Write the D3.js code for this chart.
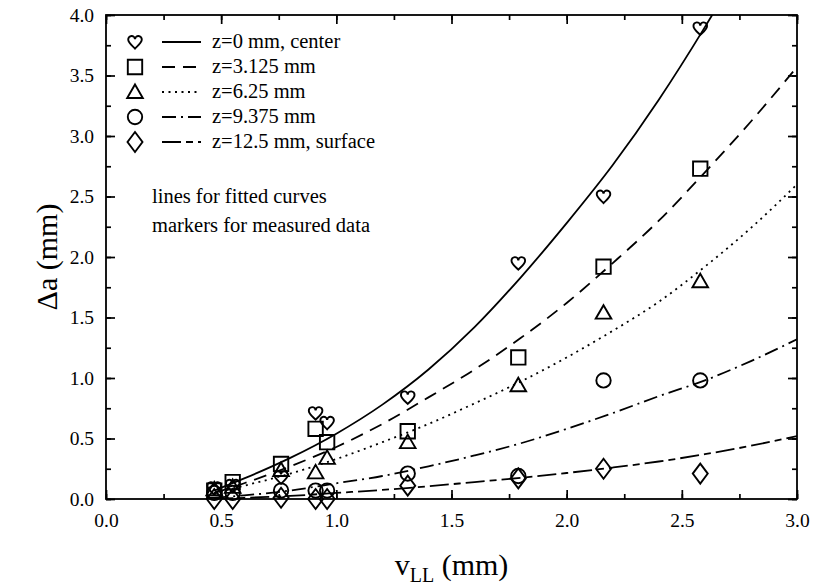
<!DOCTYPE html>
<html>
<head>
<meta charset="utf-8">
<script src="https://cdn.jsdelivr.net/npm/d3@7"></script>
<style>
  body { margin: 0; background: #fff; }
  svg text { font-family: "Liberation Serif", "Times New Roman", serif; fill: #000; }
  .tick text { font-size: 19.5px; }
  .domain { display: none; }
  .ticks .tick line { stroke: #000; stroke-width: 1.7; }
</style>
</head>
<body>
<div id="chart"></div>
<script>
// measured positions (v_LL, mm)
const vLL = [0.47, 0.55, 0.76, 0.91, 0.96, 1.31, 1.79, 2.16, 2.58];

// measured crack extension (mm), one array per depth
const da_z0     = [0.09, 0.11, 0.18, 0.71, 0.63, 0.84, 1.95, 2.50, 3.89];
const da_z3125  = [0.07, 0.14, 0.29, 0.58, 0.47, 0.56, 1.17, 1.92, 2.73];
const da_z625   = [0.08, 0.10, 0.24, 0.22, 0.34, 0.47, 0.94, 1.54, 1.80];
const da_z9375  = [0.05, 0.05, 0.07, 0.07, 0.07, 0.21, 0.19, 0.98, 0.98];
const da_z125   = [0.00, 0.00, 0.01, 0.00, 0.00, 0.11, 0.17, 0.25, 0.21];

// fitted curves
const fitX      = [0.47, 0.6, 0.8, 1.0, 1.2, 1.4, 1.6, 1.8, 2.0, 2.2, 2.4, 2.6, 2.8, 3.0];
const fit_z0    = [0.07, 0.17, 0.34, 0.54, 0.78, 1.07, 1.42, 1.83, 2.28, 2.76, 3.30, 3.90, 4.55, 5.25];
const fit_z3125 = [0.05, 0.13, 0.27, 0.43, 0.62, 0.84, 1.07, 1.33, 1.62, 1.95, 2.30, 2.70, 3.12, 3.57];
const fit_z625  = [0.05, 0.11, 0.21, 0.33, 0.47, 0.62, 0.79, 0.97, 1.17, 1.39, 1.63, 1.92, 2.24, 2.60];
const fit_z9375 = [0.01, 0.03, 0.07, 0.13, 0.19, 0.27, 0.36, 0.46, 0.58, 0.71, 0.85, 0.98, 1.14, 1.32];
const fit_z125  = [0.00, 0.01, 0.025, 0.05, 0.075, 0.105, 0.14, 0.175, 0.215, 0.26, 0.31, 0.37, 0.44, 0.52];

const labels = ['z=0 mm, center', 'z=3.125 mm', 'z=6.25 mm', 'z=9.375 mm', 'z=12.5 mm, surface'];
const xTicks = [0, 0.5, 1.0, 1.5, 2.0, 2.5, 3.0];
const yTicks = [0, 0.5, 1.0, 1.5, 2.0, 2.5, 3.0, 3.5, 4.0];

const W = 816, H = 587;
const pL = 106, pR = 797, pT = 15, pB = 499;

const series = [
  {name: labels[0], marker: 'heart',    dash: null,            pts: da_z0,    fit: fit_z0},
  {name: labels[1], marker: 'square',   dash: '13,8',          pts: da_z3125, fit: fit_z3125},
  {name: labels[2], marker: 'triangle', dash: '2,4.5',         pts: da_z625,  fit: fit_z625},
  {name: labels[3], marker: 'circle',   dash: '14,5,2,5',      pts: da_z9375, fit: fit_z9375},
  {name: labels[4], marker: 'diamond',  dash: '19,5,7,5',      pts: da_z125,  fit: fit_z125},
];

const x = d3.scaleLinear().domain([0, 3]).range([pL, pR]);
const y = d3.scaleLinear().domain([0, 4]).range([pB, pT]);

const svg = d3.select('#chart').append('svg')
  .attr('width', W).attr('height', H);

svg.append('defs').append('clipPath').attr('id', 'plot')
  .append('rect').attr('x', pL).attr('y', pT)
  .attr('width', pR - pL).attr('height', pB - pT);

// marker shapes, centred on 0,0
function markerPath(type) {
  if (type === 'heart')
    return 'M0,6.5 C-2,4.4 -6.8,1.2 -6.8,-2.4 A3.4,3.4 0 0 1 0,-2.7 A3.4,3.4 0 0 1 6.8,-2.4 C6.8,1.2 2,4.4 0,6.5 Z';
  if (type === 'square') return 'M-7.2,-7.2 H7.2 V7.2 H-7.2 Z';
  if (type === 'triangle') return 'M0,-7.5 L7.8,6 L-7.8,6 Z';
  if (type === 'diamond') return 'M0,-10 L7.5,0 L0,10 L-7.5,0 Z';
  return 'M-7.2,0 A7.2,7.2 0 1 0 7.2,0 A7.2,7.2 0 1 0 -7.2,0 Z';
}

// tick labels (no tick lines)
svg.append('g').attr('transform', 'translate(0,' + pB + ')')
  .call(d3.axisBottom(x).tickValues(xTicks).tickSize(0).tickPadding(14).tickFormat(d3.format('.1f')));
svg.append('g').attr('transform', 'translate(' + pL + ',0)')
  .call(d3.axisLeft(y).tickValues(yTicks).tickSize(0).tickPadding(12).tickFormat(d3.format('.1f')));

// minor + major tick marks on all four sides, pointing into the plot
const minorX = d3.range(0, 3.01, 0.25), minorY = d3.range(0, 4.01, 0.25);
const tickSets = [
  [d3.axisTop(x),    'translate(0,' + pB + ')', minorX, xTicks],
  [d3.axisBottom(x), 'translate(0,' + pT + ')', minorX, xTicks],
  [d3.axisRight(y),  'translate(' + pL + ',0)', minorY, yTicks],
  [d3.axisLeft(y),   'translate(' + pR + ',0)', minorY, yTicks],
];
tickSets.forEach(t => {
  svg.append('g').attr('class', 'ticks').attr('transform', t[1])
    .call(t[0].tickValues(t[2]).tickSize(5).tickFormat(''));
  svg.append('g').attr('class', 'ticks').attr('transform', t[1])
    .call(t[0].tickValues(t[3]).tickSize(9).tickFormat(''));
});

// frame
svg.append('rect')
  .attr('x', pL).attr('y', pT)
  .attr('width', pR - pL).attr('height', pB - pT)
  .attr('fill', 'none').attr('stroke', '#000').attr('stroke-width', 1.8);

// fitted curves
const line = d3.line().x(d => x(d[0])).y(d => y(d[1])).curve(d3.curveMonotoneX);

svg.append('g').attr('clip-path', 'url(#plot)')
  .selectAll('path')
  .data(series)
  .enter()
    .append('path')
    .attr('d', s => line(fitX.map((v, i) => [v, s.fit[i]])))
    .attr('fill', 'none')
    .attr('stroke', '#000')
    .attr('stroke-width', 1.8)
    .attr('stroke-dasharray', s => s.dash);

// measured markers
series.forEach(s => {
  svg.append('g').selectAll('path')
    .data(vLL.map((v, i) => [v, s.pts[i]]))
    .enter()
      .append('path')
      .attr('transform', d => 'translate(' + x(d[0]) + ',' + y(d[1]) + ')')
      .attr('d', markerPath(s.marker))
      .attr('fill', 'none')
      .attr('stroke', '#000')
      .attr('stroke-width', 1.9);
});

// legend
const legend = svg.append('g');
const rowY = i => 42 + i * 25;
legend.selectAll('path.sym')
  .data(series)
  .enter()
    .append('path')
    .attr('transform', (s, i) => 'translate(135,' + rowY(i) + ')')
    .attr('d', s => markerPath(s.marker))
    .attr('fill', 'none').attr('stroke', '#000').attr('stroke-width', 1.9);
legend.selectAll('line')
  .data(series)
  .enter()
    .append('line')
    .attr('x1', 162).attr('x2', 201)
    .attr('y1', (s, i) => rowY(i)).attr('y2', (s, i) => rowY(i))
    .attr('stroke', '#000').attr('stroke-width', 1.8)
    .attr('stroke-dasharray', s => s.dash);
legend.selectAll('text')
  .data(series)
  .enter()
    .append('text')
    .attr('x', 212).attr('y', (s, i) => rowY(i) + 6)
    .attr('font-size', 20.5)
    .text(s => s.name);

svg.append('text').attr('x', 152).attr('y', 203).attr('font-size', 20.5)
  .text('lines for fitted curves');
svg.append('text').attr('x', 152).attr('y', 232).attr('font-size', 20.5)
  .text('markers for measured data');

// axis titles
svg.append('text')
  .attr('transform', 'translate(57,' + ((pT + pB) / 2) + ') rotate(-90)')
  .attr('text-anchor', 'middle')
  .attr('font-size', 30)
  .text('Δa (mm)');

const xt = svg.append('text')
  .attr('x', (pL + pR) / 2).attr('y', 575)
  .attr('text-anchor', 'middle')
  .attr('font-size', 30);
xt.append('tspan').text('v');
xt.append('tspan').attr('dy', 7).attr('font-size', 20).text('LL');
xt.append('tspan').attr('dy', -7).text(' (mm)');
</script>
</body>
</html>
